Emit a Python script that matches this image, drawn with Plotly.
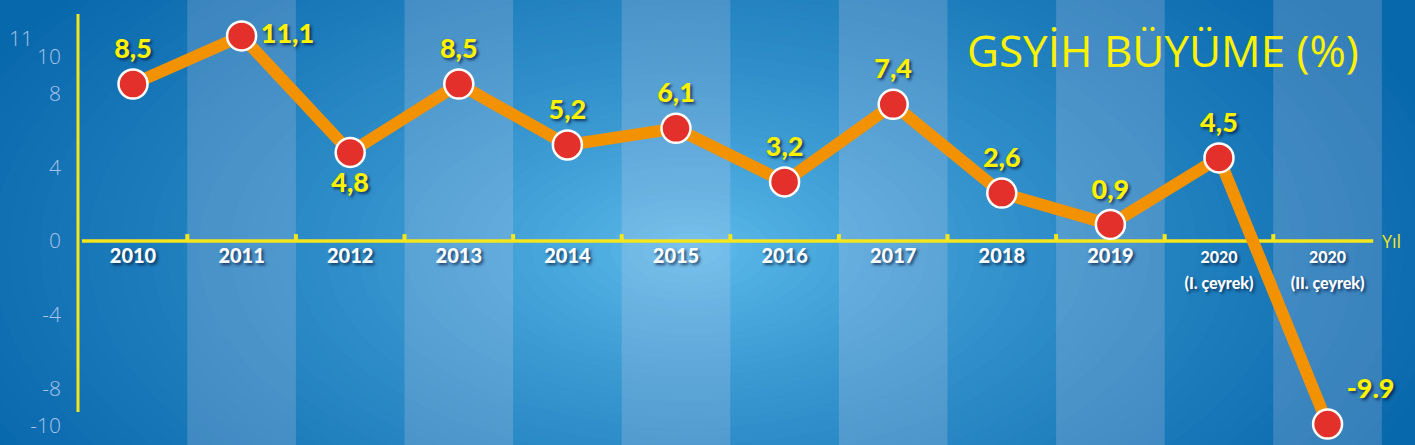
import plotly.graph_objects as go

# ---- data ----
categories = ["2010", "2011", "2012", "2013", "2014", "2015", "2016", "2017",
              "2018", "2019", "2020 Q1", "2020 Q2"]
tick_labels = ["2010", "2011", "2012", "2013", "2014", "2015", "2016", "2017",
               "2018", "2019",
               "<span style='font-size:16px'>2020<br>(I. çeyrek)</span>",
               "<span style='font-size:16px'>2020<br>(II. çeyrek)</span>"]
growth = [8.5, 11.1, 4.8, 8.5, 5.2, 6.1, 3.2, 7.4, 2.6, 0.9, 4.5, -9.9]
value_labels = ["8,5", "11,1", "4,8", "8,5", "5,2", "6,1", "3,2", "7,4",
                "2,6", "0,9", "4,5", "-9.9"]
label_positions = ["top center", "middle right", "bottom center", "top center",
                   "top center", "top center", "top center", "top center",
                   "top center", "top center", "top center", "top right"]
y_ticks = [10, 8, 4, 0, -4, -8, -10]
y_top_tick = 11   # drawn separately (set a little to the left) so it does not collide with 10
title_text = "GSYİH BÜYÜME (%)"
axis_name = "Yıl"

W, H = 1415, 445
Y_RANGE = [-11.035, 13.046]
X_RANGE = [-1.2247, 11.805]

YELLOW = "#f5e51c"
LABEL_YELLOW = "#fff200"
TICK_COLOR = "#a9c3e8"

# ---- background: radial gradient built from concentric ellipses ----
def mix(c1, c2, t):
    return "rgb(%d,%d,%d)" % tuple(round(a + (b - a) * t) for a, b in zip(c1, c2))

edge = (8, 104, 172)
center = (100, 194, 240)
cx, cy = 690 / W, 1 - 250 / H
shapes = []
N = 50
for k in range(N, 0, -1):
    t = k / N
    rx = 0.56 * t
    ry = 0.95 * t
    shapes.append(dict(type="circle", xref="paper", yref="paper",
                       x0=cx - rx, x1=cx + rx, y0=cy - ry, y1=cy + ry,
                       fillcolor=mix(center, edge, t ** 0.7),
                       line=dict(width=0), layer="below"))

# alternating lighter stripes
for i in range(1, len(categories), 2):
    shapes.append(dict(type="rect", xref="x", yref="paper",
                       x0=i - 0.5, x1=i + 0.5, y0=0, y1=1,
                       fillcolor="rgba(232,214,242,0.2)",
                       line=dict(width=0), layer="below"))

# y axis line
shapes.append(dict(type="line", xref="paper", yref="paper",
                   x0=78 / W, x1=78 / W, y0=1 - 14 / H, y1=1 - 412 / H,
                   line=dict(color=YELLOW, width=3), layer="below"))
# x axis line at zero
shapes.append(dict(type="line", xref="x", yref="y",
                   x0=-0.47, x1=11.42, y0=0, y1=0,
                   line=dict(color=YELLOW, width=3.5), layer="below"))
# small tick marks between categories
for i in range(len(categories) - 1):
    shapes.append(dict(type="line", xref="x", yref="y", ysizemode="pixel",
                       yanchor=0, x0=i + 0.5, x1=i + 0.5, y0=0, y1=7,
                       line=dict(color=YELLOW, width=4), layer="below"))

fig = go.Figure()
fig.add_trace(go.Scatter(
    x=categories, y=growth, mode="lines+markers+text",
    line=dict(color="#f39200", width=12),
    marker=dict(size=29, color="#e3302a", line=dict(color="white", width=2.5)),
    text=value_labels, textposition=label_positions,
    textfont=dict(family="Lato", size=27, color=LABEL_YELLOW, weight=900,
                  shadow="2px 2px 3px rgba(0,20,60,0.75)"),
    hoverinfo="skip", cliponaxis=False,
))

zero_pos = (0 - Y_RANGE[0]) / (Y_RANGE[1] - Y_RANGE[0])

fig.update_layout(
    width=W, height=H,
    margin=dict(l=0, r=0, t=0, b=0),
    paper_bgcolor="rgb(%d,%d,%d)" % edge,
    plot_bgcolor="rgba(0,0,0,0)",
    showlegend=False,
    shapes=shapes,
    xaxis=dict(range=X_RANGE, type="category", categoryarray=categories,
               tickvals=categories, ticktext=tick_labels,
               showgrid=False, zeroline=False, showline=False, ticks="",
               anchor="free", position=zero_pos, ticklabelstandoff=1,
               tickfont=dict(family="Lato", size=20, color="white", weight=900,
                             shadow="2px 2px 3px rgba(0,20,60,0.7)")),
    yaxis=dict(range=Y_RANGE, tickvals=y_ticks, ticktext=[str(v) for v in y_ticks],
               showgrid=False, zeroline=False, showline=False, ticks="",
               anchor="free", position=78 / W, ticklabelstandoff=17,
               tickfont=dict(family="Open Sans", size=21, color=TICK_COLOR, weight=300)),
    annotations=[
        dict(text=str(y_top_tick), xref="paper", yref="y", x=35 / W, y=y_top_tick,
             xanchor="right", yanchor="middle", showarrow=False,
             font=dict(family="Open Sans", size=21, color=TICK_COLOR, weight=300)),
        dict(text=title_text, xref="paper", yref="paper",
             x=1163 / W, y=1 - 50 / H, xanchor="center", yanchor="middle",
             showarrow=False,
             font=dict(family="Open Sans", size=44, color=LABEL_YELLOW, weight=400)),
        dict(text=axis_name, xref="paper", yref="y", x=1380 / W, y=0,
             xanchor="left", yanchor="middle", showarrow=False,
             font=dict(family="Open Sans", size=18, color=YELLOW)),
    ],
)

fig.write_html("out.html", config={"displayModeBar": False},
               post_script="document.body.style.margin='0';document.body.style.overflow='hidden';")
